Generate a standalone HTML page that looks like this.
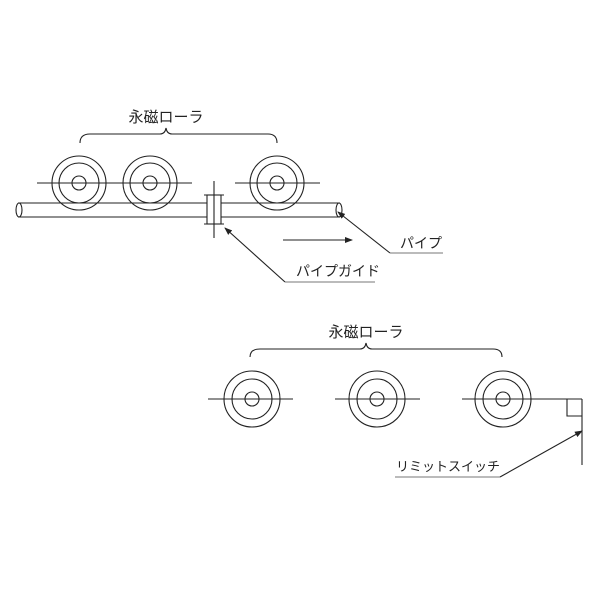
<!DOCTYPE html>
<html><head><meta charset="utf-8"><style>
html,body{margin:0;padding:0;background:#fff;width:600px;height:600px;overflow:hidden}
svg{display:block}
text{font-family:"Liberation Sans","Noto Sans CJK JP",sans-serif;fill:#222}
</style></head><body>
<svg width="600" height="600" viewBox="0 0 600 600" xmlns="http://www.w3.org/2000/svg">
<defs><marker id="a" markerWidth="8" markerHeight="6" refX="7" refY="3" orient="auto" markerUnits="userSpaceOnUse"><path d="M0,0 L8,3 L0,6z" fill="#222"/></marker></defs>
<g fill="none" stroke="#222" stroke-width="1.1">
<!-- top brace -->
<path d="M80,143 Q80,134 90,134 L160,134 Q165,134 166,128 Q167,134 172,134 L268,134 Q277,134 277,143"/>
<!-- top rollers -->
<circle cx="79" cy="183" r="27"/><circle cx="79" cy="183" r="20"/><circle cx="79" cy="183" r="7"/>
<circle cx="150" cy="183" r="27"/><circle cx="150" cy="183" r="20"/><circle cx="150" cy="183" r="7"/>
<circle cx="277" cy="183" r="27"/><circle cx="277" cy="183" r="20"/><circle cx="277" cy="183" r="7"/>
<line x1="37" y1="183" x2="192" y2="183"/>
<line x1="235" y1="183" x2="320" y2="183"/>
<!-- pipe -->
<line x1="18" y1="203" x2="340" y2="203"/>
<line x1="18" y1="217" x2="340" y2="217"/>
<ellipse cx="19" cy="210" rx="3" ry="7"/>
<ellipse cx="339" cy="210" rx="3" ry="7"/>
<!-- guide -->
<rect x="207" y="195" width="14" height="29" fill="#fff"/>
<line x1="204" y1="195" x2="224" y2="195"/>
<line x1="204" y1="224" x2="224" y2="224"/>
<line x1="214" y1="181" x2="214" y2="238"/>
<!-- motion arrow -->
<line x1="283" y1="240" x2="352" y2="240" marker-end="url(#a)"/>
<!-- leaders -->
<polyline points="285,282 375,282" stroke="#777"/>
<line x1="285" y1="282" x2="225" y2="228" marker-end="url(#a)"/>
<polyline points="390,253 443,253" stroke="#777"/>
<line x1="390" y1="253" x2="338" y2="212" marker-end="url(#a)"/>
<!-- bottom brace -->
<path d="M250,357 Q250,349 260,349 L360,349 Q365,349 366,343 Q367,349 372,349 L493,349 Q502,349 502,357"/>
<circle cx="252" cy="399" r="28"/><circle cx="252" cy="399" r="20"/><circle cx="252" cy="399" r="7"/>
<circle cx="377" cy="399" r="28"/><circle cx="377" cy="399" r="20"/><circle cx="377" cy="399" r="7"/>
<circle cx="503" cy="399" r="28"/><circle cx="503" cy="399" r="20"/><circle cx="503" cy="399" r="7"/>
<line x1="208" y1="399" x2="293" y2="399"/>
<line x1="335" y1="399" x2="420" y2="399"/>
<line x1="462" y1="399" x2="582" y2="399"/>
<polyline points="567,399 567,416 582,416"/>
<line x1="582" y1="399" x2="582" y2="465"/>
<polyline points="395,477 500,477" stroke="#777"/>
<line x1="500" y1="477" x2="582" y2="431" marker-end="url(#a)"/>
</g>
<text x="166" y="122" font-size="15" text-anchor="middle">永磁ローラ</text>
<text x="366" y="337" font-size="15" text-anchor="middle">永磁ローラ</text>
<text x="400" y="248" font-size="14">パイプ</text>
<text x="296" y="276" font-size="14">パイプガイド</text>
<text x="396" y="471" font-size="13">リミットスイッチ</text>
</svg>
</body></html>
